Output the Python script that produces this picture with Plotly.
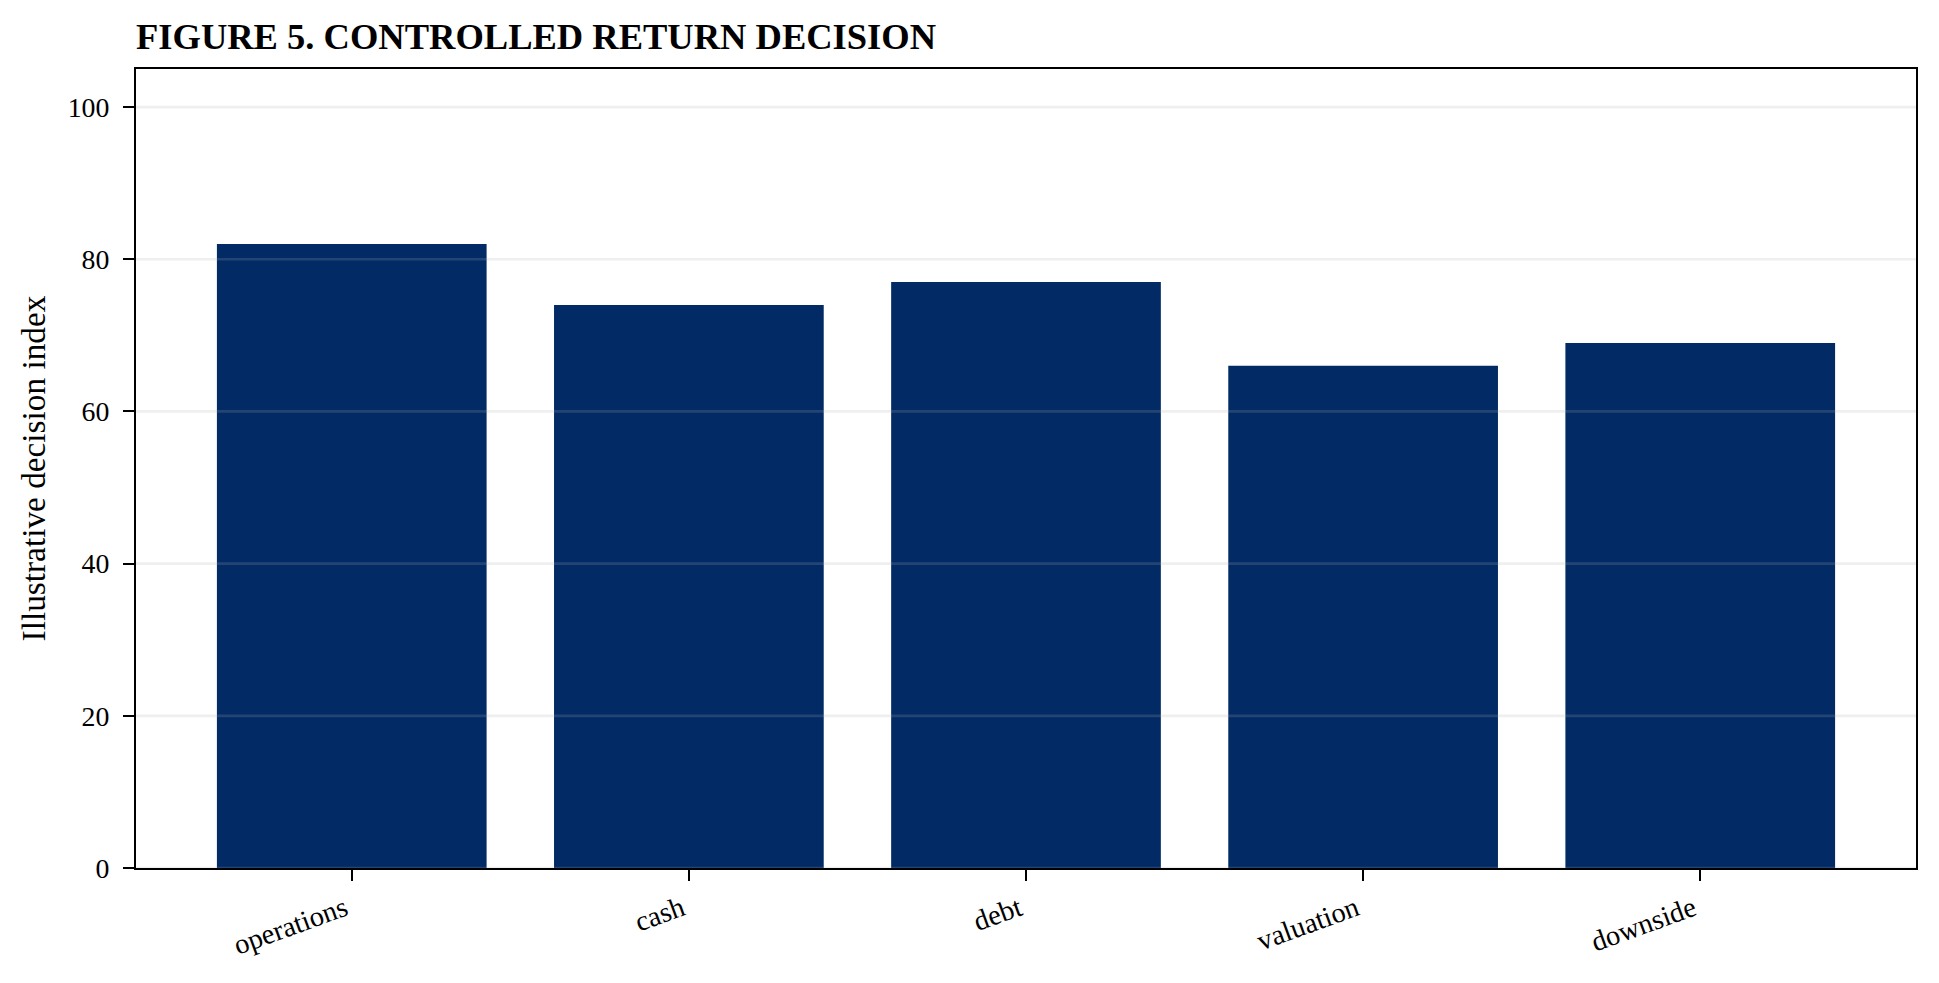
import plotly.graph_objects as go

categories = ["operations", "cash", "debt", "valuation", "downside"]
values = [82, 74, 77, 66, 69]
y_ticks = [0, 20, 40, 60, 80, 100]
title_text = "FIGURE 5. CONTROLLED RETURN DECISION"
y_label = "Illustrative decision index"

BAR = "#022b66"
FONT = "Liberation Serif, Times New Roman, serif"
OFF = 8  # default page body margin

fig = go.Figure()
fig.add_trace(go.Bar(
    x=list(range(len(categories))), y=values,
    width=0.8, marker=dict(color=BAR, line=dict(width=0)),
    hoverinfo="skip",
))

for t in y_ticks:
    fig.add_shape(type="line", xref="paper", yref="y", x0=0, x1=1, y0=t, y1=t,
                  line=dict(color="rgba(175,175,175,0.2)", width=2.7), layer="above")

W, H = 1939, 983
fig.update_layout(
    width=W, height=H,
    margin=dict(l=136 - OFF, r=W - 1916 + OFF, t=69 - OFF, b=H - 868 + OFF),
    paper_bgcolor="white", plot_bgcolor="white",
    showlegend=False,
    font=dict(family=FONT, size=27.8, color="black"),
    title=dict(text="<b>" + title_text + "</b>", x=(136 - OFF) / W, xanchor="left", xref="container",
               y=1 - (36 - OFF) / H, yanchor="middle", yref="container",
               font=dict(family=FONT, size=36.5, color="black")),
    xaxis=dict(
        range=[-0.64, 4.64], tickmode="array",
        tickvals=list(range(len(categories))), ticktext=categories,
        tickangle=-20, ticks="outside", ticklen=11, tickwidth=2.2, tickcolor="black",
        ticklabelstandoff=0, ticklabelshift=-7,
        showline=True, linecolor="black", linewidth=2.2, mirror=True,
        showgrid=False, zeroline=False,
        tickfont=dict(family=FONT, size=28.5, color="black"),
    ),
    yaxis=dict(
        range=[0, 105], tickmode="array", tickvals=y_ticks,
        ticks="outside", ticklen=11, tickwidth=2.2, tickcolor="black",
        ticklabelstandoff=8,
        showline=True, linecolor="black", linewidth=2.2, mirror=True,
        showgrid=False, zeroline=False,
        tickfont=dict(family=FONT, size=27.8, color="black"),
        title=dict(text=y_label, standoff=12, font=dict(family=FONT, size=33.3, color="black")),
    ),
)

fig.write_html("out.html")
